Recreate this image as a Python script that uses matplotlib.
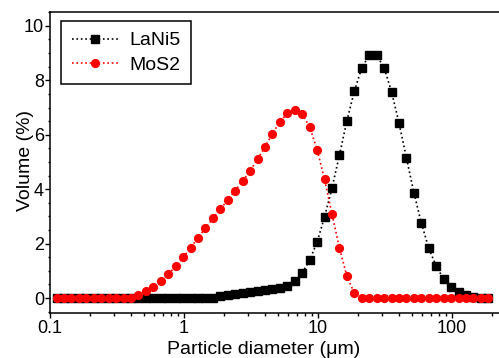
import matplotlib
matplotlib.use("Agg")
import matplotlib.pyplot as plt
from matplotlib.ticker import LogLocator, FixedLocator, MultipleLocator, NullFormatter

# particle size classes (um)
diameter = [0.112, 0.1273, 0.1447, 0.1644, 0.1868, 0.2123, 0.2413, 0.2742, 0.3116, 0.3541,
            0.4025, 0.4574, 0.5198, 0.5907, 0.6713, 0.7629, 0.8670, 0.9853, 1.120, 1.273,
            1.447, 1.644, 1.868, 2.123, 2.413, 2.742, 3.116, 3.541, 4.025, 4.574,
            5.198, 5.907, 6.713, 7.629, 8.670, 9.853, 11.20, 12.73, 14.47, 16.44,
            18.68, 21.23, 24.13, 27.42, 31.16, 35.41, 40.25, 45.74, 51.98, 59.07,
            67.13, 76.29, 86.70, 98.53, 112.0, 127.3, 144.7, 164.4, 186.8]

# volume fractions (%)
lani5 = [0, 0, 0, 0, 0, 0, 0, 0, 0, 0,
         0, 0, 0, 0, 0, 0, 0, 0, 0, 0,
         0, 0, 0.06, 0.12, 0.16, 0.20, 0.23, 0.27, 0.29, 0.32,
         0.36, 0.45, 0.61, 0.92, 1.39, 2.06, 2.98, 4.04, 5.26, 6.51,
         7.60, 8.46, 8.92, 8.92, 8.46, 7.58, 6.43, 5.15, 3.87, 2.76,
         1.83, 1.17, 0.70, 0.39, 0.21, 0.11, 0.04, 0, 0]

mos2 = [0, 0, 0, 0, 0, 0, 0, 0, 0, 0,
        0, 0.10, 0.25, 0.39, 0.61, 0.87, 1.17, 1.50, 1.84, 2.22,
        2.57, 2.93, 3.27, 3.60, 3.95, 4.30, 4.67, 5.10, 5.56, 6.04,
        6.47, 6.79, 6.90, 6.76, 6.29, 5.45, 4.36, 3.08, 1.84, 0.80,
        0.18, 0, 0, 0, 0, 0, 0, 0, 0, 0,
        0, 0, 0, 0, 0, 0, 0, 0, 0]

plt.rcParams['font.family'] = ['Liberation Sans', 'DejaVu Sans']

fig = plt.figure(figsize=(4.99, 3.58), dpi=100)
ax = fig.add_axes([50/499, 45/358, 449/499, 301/358])

ax.plot(diameter, lani5, ls=':', color='black', lw=1.2, marker='s', ms=5.2,
        label='LaNi5')
ax.plot(diameter, mos2, ls=':', color='red', lw=1.2, marker='o', ms=5.6,
        label='MoS2')

ax.set_xscale('log')
ax.set_xlim(0.1, 224.5)
ax.set_ylim(-0.55, 10.51)

ax.xaxis.set_major_locator(FixedLocator([0.1, 1, 10, 100]))
ax.set_xticklabels(['0.1', '1', '10', '100'])
ax.xaxis.set_minor_locator(LogLocator(base=10, subs=range(2, 10), numticks=20))
ax.xaxis.set_minor_formatter(NullFormatter())
ax.yaxis.set_major_locator(MultipleLocator(2))
ax.yaxis.set_minor_locator(MultipleLocator(0.5))

ax.tick_params(which='major', direction='out', length=3.3, width=1, labelsize=13)
ax.tick_params(which='minor', direction='out', length=1.8, width=1)
ax.tick_params(axis='y', which='major', pad=1)
ax.tick_params(axis='x', which='major', pad=1.5)

ax.spines['right'].set_visible(False)
for s in ['left', 'top', 'bottom']:
    ax.spines[s].set_linewidth(1.1)

ax.set_xlabel('Particle diameter (\u03bcm)', fontsize=14)
ax.set_ylabel('Volume (%)', fontsize=14)
ax.xaxis.set_label_coords(0.4755, -0.093)
ax.yaxis.set_label_coords(-0.036, 0.508)

leg = ax.legend(loc='upper left', bbox_to_anchor=(0.0245, 0.970), borderaxespad=0,
                fancybox=False, edgecolor='black', framealpha=1, fontsize=14,
                handlelength=2.4, handletextpad=0.55, labelspacing=0.35,
                borderpad=0.55)
leg.get_frame().set_linewidth(1.1)

fig.savefig('out.png', dpi=100)
